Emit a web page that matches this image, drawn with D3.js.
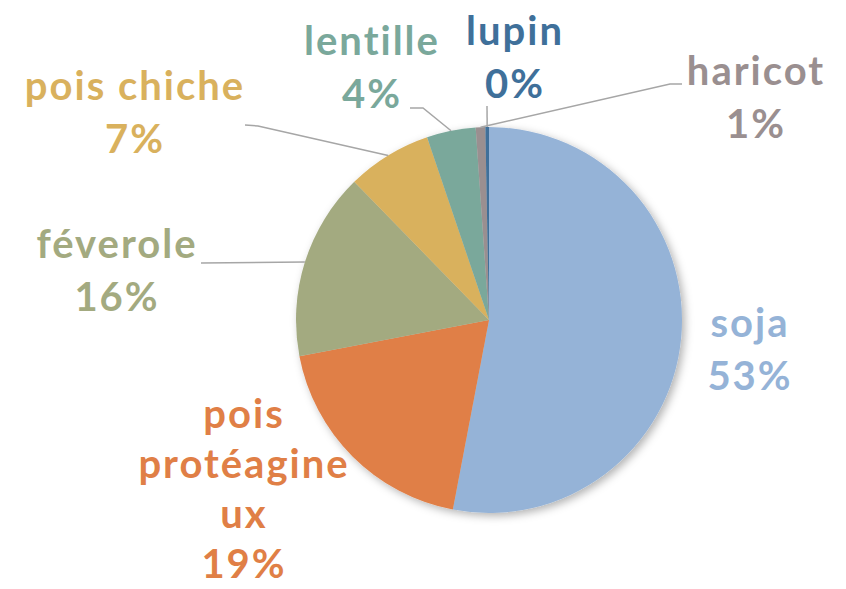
<!DOCTYPE html>
<html>
<head>
<meta charset="utf-8">
<script src="https://cdn.jsdelivr.net/npm/d3@7"></script>
<style>
  body { margin: 0; background: #fff; }
  text { font-family: "Lato", "DejaVu Sans", sans-serif; font-weight: 700; }
</style>
</head>
<body>
<svg width="846" height="589"></svg>
<script>
var categories = ["soja", "pois protéagineux", "féverole", "pois chiche", "lentille", "haricot", "lupin"];
var values = [53.0, 19.0, 15.7, 7.1, 4.1, 0.8, 0.3];
var colors = ["#95b3d7", "#e07f46", "#a3aa80", "#d9b15d", "#7aa89b", "#9a8f90", "#3f709a"];

// label layout: centre x, first baseline, line gap, lines of name text
var labelPos = [
  {x: 750, y: 337, gap: 53, lines: ["soja"]},
  {x: 244, y: 428, gap: 50, lines: ["pois", "protéagine", "ux"]},
  {x: 117, y: 258, gap: 53, lines: ["féverole"]},
  {x: 135, y: 100, gap: 53, lines: ["pois chiche"]},
  {x: 372, y: 55, gap: 53, lines: ["lentille"]},
  {x: 756, y: 85, gap: 53, lines: ["haricot"]},
  {x: 515, y: 45, gap: 53, lines: ["lupin"]}
];
// leader lines: label end point and elbow
var leaders = [
  null,
  null,
  {from: [201, 263], elbow: [201, 263]},
  {from: [245, 125], elbow: [258, 126]},
  {from: [410, 108], elbow: [423, 108]},
  {from: [682, 84], elbow: [670, 84]},
  {from: [487, 106], elbow: [487, 106]}
];

var svg = d3.select("svg"),
    cx = 489, cy = 320, r = 193;

var defs = svg.append("defs");
var f = defs.append("filter").attr("id", "shadow")
  .attr("x", "-20%").attr("y", "-20%").attr("width", "140%").attr("height", "140%");
f.append("feDropShadow").attr("dx", 3).attr("dy", 3).attr("stdDeviation", 4)
  .attr("flood-color", "#000").attr("flood-opacity", 0.3);

var pie = d3.pie().sort(null).value(function(d) { return d; });
var arcs = pie(values);
var arc = d3.arc().innerRadius(0).outerRadius(r);

var g = svg.append("g").attr("transform", "translate(" + cx + "," + cy + ")");

g.append("g").attr("filter", "url(#shadow)")
  .selectAll("path")
  .data(arcs)
  .enter().append("path")
    .attr("d", arc)
    .attr("fill", function(d, i) { return colors[i]; });

// leader lines
arcs.forEach(function(d, i) {
  var L = leaders[i];
  if (!L) return;
  var a = (d.startAngle + d.endAngle) / 2;
  var px = cx + Math.sin(a) * r, py = cy - Math.cos(a) * r;
  svg.append("polyline")
    .attr("points", [L.from, L.elbow, [px, py]].map(function(p) { return p.join(","); }).join(" "))
    .attr("fill", "none")
    .attr("stroke", "#a6a6a6")
    .attr("stroke-width", 1.5);
});

// labels
arcs.forEach(function(d, i) {
  var p = labelPos[i];
  var t = svg.append("text")
    .attr("text-anchor", "middle")
    .attr("font-size", 40)
    .attr("letter-spacing", 2)
    .attr("fill", colors[i]);
  var lines = p.lines.concat([Math.round(values[i]) + "%"]);
  lines.forEach(function(s, k) {
    t.append("tspan").attr("x", p.x).attr("y", p.y + k * p.gap).text(s);
  });
});
</script>
</body>
</html>
